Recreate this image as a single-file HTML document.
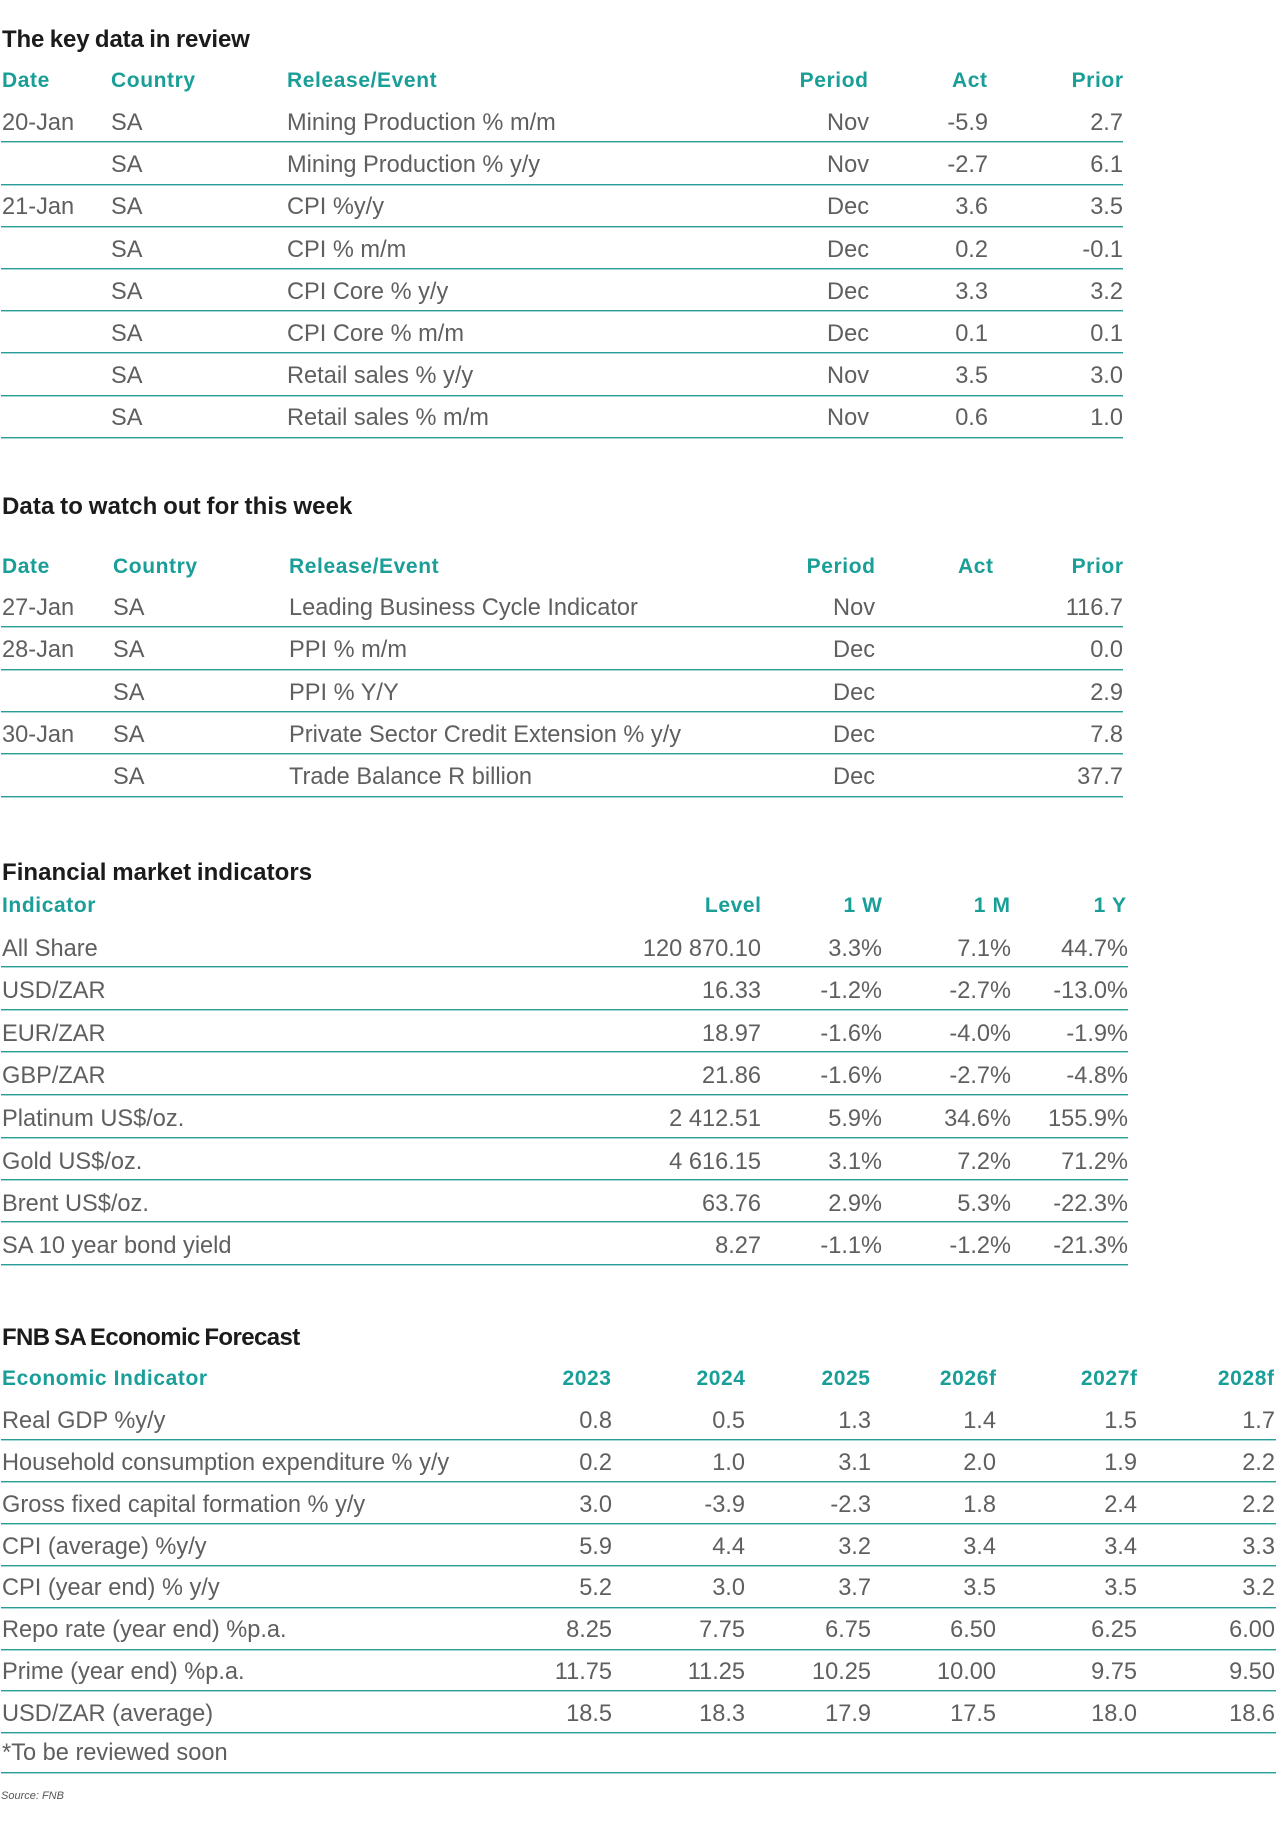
<!DOCTYPE html>
<html>
<head>
<meta charset="utf-8">
<style>
  html, body { margin:0; padding:0; background:#ffffff; }
  body { width:1280px; height:1834px; position:relative; overflow:hidden; font-family:"Liberation Sans", Arial, sans-serif; }
  .ttl { position:absolute; left:2px; font-weight:bold; font-size:24px; line-height:1; color:#1b1b1b; white-space:nowrap; }
  .h { position:absolute; font-weight:bold; font-size:21px; line-height:1; color:#1a9e98; letter-spacing:0.6px; white-space:nowrap; }
  .hr { text-align:right; margin-right:-0.6px; }
  .row { position:absolute; left:0; width:1280px; height:2px; }
  .ln { position:absolute; left:1px; top:0; height:2px; background:linear-gradient(to bottom, #2a9d98 0, #2a9d98 50%, #a3d8d5 50%, #a3d8d5 100%); }
  .c { position:absolute; font-size:23.6px; line-height:1; color:#5f5f5f; white-space:nowrap; }
  .r { text-align:right; }
  .s1 .c { top:-29.3px; }
  .s2 .c { top:-29.3px; }
  .s3 .c { top:-28.8px; }
  .s4 .c { top:-29.5px; }
  .s1 .ln, .s2 .ln { width:1122px; }
  .s3 .ln { width:1127px; }
  .s4 .ln { width:1275px; }
  .src { position:absolute; left:1px; top:1790.7px; font-size:11px; line-height:1; font-style:italic; color:#555; white-space:nowrap; }
</style>
</head>
<body>

<!-- Section 1 -->
<div class="ttl" style="top:27.6px;letter-spacing:-0.14px;word-spacing:-1px">The key data in review</div>
<div class="h" style="top:69.5px;left:2px">Date</div>
<div class="h" style="top:69.5px;left:111px">Country</div>
<div class="h" style="top:69.5px;left:287px">Release/Event</div>
<div class="h hr" style="top:69.5px;right:412px">Period</div>
<div class="h hr" style="top:69.5px;right:293px">Act</div>
<div class="h hr" style="top:69.5px;right:157px">Prior</div>

<div class="row s1" style="top:141.3px"><div class="ln"></div>
  <span class="c" style="left:2px">20-Jan</span><span class="c" style="left:111px">SA</span><span class="c" style="left:287px">Mining Production % m/m</span>
  <span class="c r" style="right:411px">Nov</span><span class="c r" style="right:292px">-5.9</span><span class="c r" style="right:157px">2.7</span></div>
<div class="row s1" style="top:183.5px"><div class="ln"></div>
  <span class="c" style="left:111px">SA</span><span class="c" style="left:287px">Mining Production % y/y</span>
  <span class="c r" style="right:411px">Nov</span><span class="c r" style="right:292px">-2.7</span><span class="c r" style="right:157px">6.1</span></div>
<div class="row s1" style="top:225.7px"><div class="ln"></div>
  <span class="c" style="left:2px">21-Jan</span><span class="c" style="left:111px">SA</span><span class="c" style="left:287px">CPI %y/y</span>
  <span class="c r" style="right:411px">Dec</span><span class="c r" style="right:292px">3.6</span><span class="c r" style="right:157px">3.5</span></div>
<div class="row s1" style="top:267.9px"><div class="ln"></div>
  <span class="c" style="left:111px">SA</span><span class="c" style="left:287px">CPI % m/m</span>
  <span class="c r" style="right:411px">Dec</span><span class="c r" style="right:292px">0.2</span><span class="c r" style="right:157px">-0.1</span></div>
<div class="row s1" style="top:310.1px"><div class="ln"></div>
  <span class="c" style="left:111px">SA</span><span class="c" style="left:287px">CPI Core % y/y</span>
  <span class="c r" style="right:411px">Dec</span><span class="c r" style="right:292px">3.3</span><span class="c r" style="right:157px">3.2</span></div>
<div class="row s1" style="top:352.3px"><div class="ln"></div>
  <span class="c" style="left:111px">SA</span><span class="c" style="left:287px">CPI Core % m/m</span>
  <span class="c r" style="right:411px">Dec</span><span class="c r" style="right:292px">0.1</span><span class="c r" style="right:157px">0.1</span></div>
<div class="row s1" style="top:394.5px"><div class="ln"></div>
  <span class="c" style="left:111px">SA</span><span class="c" style="left:287px">Retail sales % y/y</span>
  <span class="c r" style="right:411px">Nov</span><span class="c r" style="right:292px">3.5</span><span class="c r" style="right:157px">3.0</span></div>
<div class="row s1" style="top:436.7px"><div class="ln"></div>
  <span class="c" style="left:111px">SA</span><span class="c" style="left:287px">Retail sales % m/m</span>
  <span class="c r" style="right:411px">Nov</span><span class="c r" style="right:292px">0.6</span><span class="c r" style="right:157px">1.0</span></div>

<!-- Section 2 -->
<div class="ttl" style="top:494.7px;letter-spacing:0.1px;word-spacing:-1px">Data to watch out for this week</div>
<div class="h" style="top:555.5px;left:2px">Date</div>
<div class="h" style="top:555.5px;left:113px">Country</div>
<div class="h" style="top:555.5px;left:289px">Release/Event</div>
<div class="h hr" style="top:555.5px;right:405px">Period</div>
<div class="h hr" style="top:555.5px;right:287px">Act</div>
<div class="h hr" style="top:555.5px;right:157px">Prior</div>

<div class="row s2" style="top:626.3px"><div class="ln"></div>
  <span class="c" style="left:2px">27-Jan</span><span class="c" style="left:113px">SA</span><span class="c" style="left:289px">Leading Business Cycle Indicator</span>
  <span class="c r" style="right:405px">Nov</span><span class="c r" style="right:157px">116.7</span></div>
<div class="row s2" style="top:668.65px"><div class="ln"></div>
  <span class="c" style="left:2px">28-Jan</span><span class="c" style="left:113px">SA</span><span class="c" style="left:289px">PPI % m/m</span>
  <span class="c r" style="right:405px">Dec</span><span class="c r" style="right:157px">0.0</span></div>
<div class="row s2" style="top:711px"><div class="ln"></div>
  <span class="c" style="left:113px">SA</span><span class="c" style="left:289px">PPI % Y/Y</span>
  <span class="c r" style="right:405px">Dec</span><span class="c r" style="right:157px">2.9</span></div>
<div class="row s2" style="top:753.35px"><div class="ln"></div>
  <span class="c" style="left:2px">30-Jan</span><span class="c" style="left:113px">SA</span><span class="c" style="left:289px">Private Sector Credit Extension % y/y</span>
  <span class="c r" style="right:405px">Dec</span><span class="c r" style="right:157px">7.8</span></div>
<div class="row s2" style="top:795.7px"><div class="ln"></div>
  <span class="c" style="left:113px">SA</span><span class="c" style="left:289px">Trade Balance R billion</span>
  <span class="c r" style="right:405px">Dec</span><span class="c r" style="right:157px">37.7</span></div>

<!-- Section 3 -->
<div class="ttl" style="top:861.4px;letter-spacing:0.05px;word-spacing:-1px">Financial market indicators</div>
<div class="h" style="top:894.9px;left:2px">Indicator</div>
<div class="h hr" style="top:894.9px;right:519px">Level</div>
<div class="h hr" style="top:894.9px;right:398px">1 W</div>
<div class="h hr" style="top:894.9px;right:270px">1 M</div>
<div class="h hr" style="top:894.9px;right:154px">1 Y</div>

<div class="row s3" style="top:966.3px"><div class="ln"></div>
  <span class="c" style="left:2px">All Share</span>
  <span class="c r" style="right:519px">120 870.10</span><span class="c r" style="right:398px">3.3%</span><span class="c r" style="right:269px">7.1%</span><span class="c r" style="right:152px">44.7%</span></div>
<div class="row s3" style="top:1009px"><div class="ln"></div>
  <span class="c" style="left:2px">USD/ZAR</span>
  <span class="c r" style="right:519px">16.33</span><span class="c r" style="right:398px">-1.2%</span><span class="c r" style="right:269px">-2.7%</span><span class="c r" style="right:152px">-13.0%</span></div>
<div class="row s3" style="top:1051.3px"><div class="ln"></div>
  <span class="c" style="left:2px">EUR/ZAR</span>
  <span class="c r" style="right:519px">18.97</span><span class="c r" style="right:398px">-1.6%</span><span class="c r" style="right:269px">-4.0%</span><span class="c r" style="right:152px">-1.9%</span></div>
<div class="row s3" style="top:1094px"><div class="ln"></div>
  <span class="c" style="left:2px">GBP/ZAR</span>
  <span class="c r" style="right:519px">21.86</span><span class="c r" style="right:398px">-1.6%</span><span class="c r" style="right:269px">-2.7%</span><span class="c r" style="right:152px">-4.8%</span></div>
<div class="row s3" style="top:1136.7px"><div class="ln"></div>
  <span class="c" style="left:2px">Platinum US$/oz.</span>
  <span class="c r" style="right:519px">2 412.51</span><span class="c r" style="right:398px">5.9%</span><span class="c r" style="right:269px">34.6%</span><span class="c r" style="right:152px">155.9%</span></div>
<div class="row s3" style="top:1179.3px"><div class="ln"></div>
  <span class="c" style="left:2px">Gold US$/oz.</span>
  <span class="c r" style="right:519px">4 616.15</span><span class="c r" style="right:398px">3.1%</span><span class="c r" style="right:269px">7.2%</span><span class="c r" style="right:152px">71.2%</span></div>
<div class="row s3" style="top:1221.3px"><div class="ln"></div>
  <span class="c" style="left:2px">Brent US$/oz.</span>
  <span class="c r" style="right:519px">63.76</span><span class="c r" style="right:398px">2.9%</span><span class="c r" style="right:269px">5.3%</span><span class="c r" style="right:152px">-22.3%</span></div>
<div class="row s3" style="top:1264px"><div class="ln"></div>
  <span class="c" style="left:2px">SA 10 year bond yield</span>
  <span class="c r" style="right:519px">8.27</span><span class="c r" style="right:398px">-1.1%</span><span class="c r" style="right:269px">-1.2%</span><span class="c r" style="right:152px">-21.3%</span></div>

<!-- Section 4 -->
<div class="ttl" style="top:1326.4px;letter-spacing:-0.6px;word-spacing:-1.5px">FNB SA Economic Forecast</div>
<div class="h" style="top:1368.2px;left:2px">Economic Indicator</div>
<div class="h hr" style="top:1368.2px;right:669px">2023</div>
<div class="h hr" style="top:1368.2px;right:535px">2024</div>
<div class="h hr" style="top:1368.2px;right:410px">2025</div>
<div class="h hr" style="top:1368.2px;right:284px">2026f</div>
<div class="h hr" style="top:1368.2px;right:143px">2027f</div>
<div class="h hr" style="top:1368.2px;right:6px">2028f</div>

<div class="row s4" style="top:1439px"><div class="ln"></div>
  <span class="c" style="left:2px">Real GDP %y/y</span>
  <span class="c r" style="right:668px">0.8</span><span class="c r" style="right:535px">0.5</span><span class="c r" style="right:409px">1.3</span><span class="c r" style="right:284px">1.4</span><span class="c r" style="right:143px">1.5</span><span class="c r" style="right:5px">1.7</span></div>
<div class="row s4" style="top:1481px"><div class="ln"></div>
  <span class="c" style="left:2px">Household consumption expenditure % y/y</span>
  <span class="c r" style="right:668px">0.2</span><span class="c r" style="right:535px">1.0</span><span class="c r" style="right:409px">3.1</span><span class="c r" style="right:284px">2.0</span><span class="c r" style="right:143px">1.9</span><span class="c r" style="right:5px">2.2</span></div>
<div class="row s4" style="top:1523px"><div class="ln"></div>
  <span class="c" style="left:2px">Gross fixed capital formation % y/y</span>
  <span class="c r" style="right:668px">3.0</span><span class="c r" style="right:535px">-3.9</span><span class="c r" style="right:409px">-2.3</span><span class="c r" style="right:284px">1.8</span><span class="c r" style="right:143px">2.4</span><span class="c r" style="right:5px">2.2</span></div>
<div class="row s4" style="top:1565px"><div class="ln"></div>
  <span class="c" style="left:2px">CPI (average) %y/y</span>
  <span class="c r" style="right:668px">5.9</span><span class="c r" style="right:535px">4.4</span><span class="c r" style="right:409px">3.2</span><span class="c r" style="right:284px">3.4</span><span class="c r" style="right:143px">3.4</span><span class="c r" style="right:5px">3.3</span></div>
<div class="row s4" style="top:1606.5px"><div class="ln"></div>
  <span class="c" style="left:2px">CPI (year end) % y/y</span>
  <span class="c r" style="right:668px">5.2</span><span class="c r" style="right:535px">3.0</span><span class="c r" style="right:409px">3.7</span><span class="c r" style="right:284px">3.5</span><span class="c r" style="right:143px">3.5</span><span class="c r" style="right:5px">3.2</span></div>
<div class="row s4" style="top:1648.5px"><div class="ln"></div>
  <span class="c" style="left:2px">Repo rate (year end) %p.a.</span>
  <span class="c r" style="right:668px">8.25</span><span class="c r" style="right:535px">7.75</span><span class="c r" style="right:409px">6.75</span><span class="c r" style="right:284px">6.50</span><span class="c r" style="right:143px">6.25</span><span class="c r" style="right:5px">6.00</span></div>
<div class="row s4" style="top:1690.3px"><div class="ln"></div>
  <span class="c" style="left:2px">Prime (year end) %p.a.</span>
  <span class="c r" style="right:668px">11.75</span><span class="c r" style="right:535px">11.25</span><span class="c r" style="right:409px">10.25</span><span class="c r" style="right:284px">10.00</span><span class="c r" style="right:143px">9.75</span><span class="c r" style="right:5px">9.50</span></div>
<div class="row s4" style="top:1732px"><div class="ln"></div>
  <span class="c" style="left:2px">USD/ZAR (average)</span>
  <span class="c r" style="right:668px">18.5</span><span class="c r" style="right:535px">18.3</span><span class="c r" style="right:409px">17.9</span><span class="c r" style="right:284px">17.5</span><span class="c r" style="right:143px">18.0</span><span class="c r" style="right:5px">18.6</span></div>
<div class="row s4" style="top:1772px"><div class="ln"></div>
  <span class="c" style="left:2px;top:-30px">*To be reviewed soon</span></div>

<div class="src">Source: FNB</div>

</body>
</html>
